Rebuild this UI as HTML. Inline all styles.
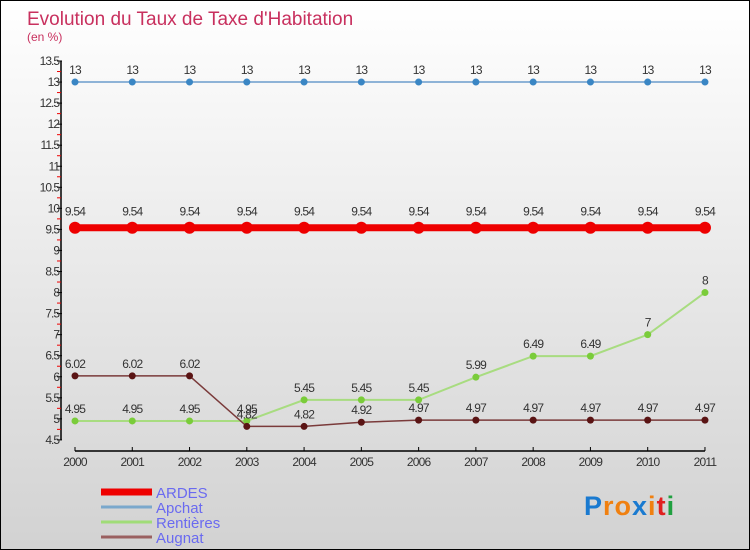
<!DOCTYPE html>
<html><head><meta charset="utf-8"><style>
html,body{margin:0;padding:0}
body{width:750px;height:550px;overflow:hidden;font-family:"Liberation Sans",sans-serif}
#wrap{position:relative;width:748px;height:548px;border:1px solid #000;background:linear-gradient(#ffffff,#d2d2d2)}
</style></head><body>
<div id="wrap">
<svg id="chart" width="748" height="548" style="position:absolute;left:0;top:0"></svg>
</div>
<script>
const years=["2000","2001","2002","2003","2004","2005","2006","2007","2008","2009","2010","2011"];
const ardes=[9.54,9.54,9.54,9.54,9.54,9.54,9.54,9.54,9.54,9.54,9.54,9.54];
const apchat=[13,13,13,13,13,13,13,13,13,13,13,13];
const rentieres=[4.95,4.95,4.95,4.95,5.45,5.45,5.45,5.99,6.49,6.49,7,8];
const augnat=[6.02,6.02,6.02,4.82,4.82,4.92,4.97,4.97,4.97,4.97,4.97,4.97];
const rentLabels=["4.95","4.95","4.95","4.95","5.45","5.45","5.45","5.99","6.49","6.49","7","8"];
const augLabels=["6.02","6.02","6.02","4.82","4.82","4.92","4.97","4.97","4.97","4.97","4.97","4.97"];
const yTicks=[4.5,5,5.5,6,6.5,7,7.5,8,8.5,9,9.5,10,10.5,11,11.5,12,12.5,13,13.5];
const NS="http://www.w3.org/2000/svg";
const svg=document.getElementById('chart');
const X=i=>74+i*57.27;
const Y=v=>60+(13.5-v)*42.1;
function el(t,a,p){const e=document.createElementNS(NS,t);for(const k in a)e.setAttribute(k,a[k]);(p||svg).appendChild(e);return e;}
function txt(x,y,s,a,p){const e=el('text',Object.assign({x:x,y:y},a),p);e.textContent=s;return e;}
const title=txt(26,24,"Evolution du Taux de Taxe d'Habitation",{'font-size':19,fill:'#c8305e'});


const sub=txt(26,40,"(en %)",{'font-size':12,fill:'#c8305e'});


const yAxis=el('g',{});


el('line',{x1:60,y1:Y(13.5),x2:60,y2:Y(4.5),stroke:'#000','stroke-width':1.5},yAxis);
yTicks.forEach((v,i)=>{
  el('line',{x1:56,y1:Y(v),x2:61,y2:Y(v),stroke:'#000'},yAxis);
  if(i<yTicks.length-1) el('line',{x1:56,y1:Y(v+0.25),x2:60,y2:Y(v+0.25),stroke:'#e00'},yAxis);
  const t=txt(58,Y(v)+4,String(v),{'font-size':12,fill:'#333','text-anchor':'end','letter-spacing':'-1'},yAxis);
  
  
});
const xAxis=el('g',{});


el('line',{x1:X(0),y1:450,x2:X(11),y2:450,stroke:'#000','stroke-width':1.5},xAxis);
years.forEach((y,i)=>{
  el('line',{x1:X(i),y1:446,x2:X(i),y2:450,stroke:'#000'},xAxis);
  const t=txt(X(i),465,y,{'font-size':12,fill:'#333','text-anchor':'middle','letter-spacing':'-0.8'},xAxis);
  
  
});
function series(name,vals,labels,color,w,r,dot,lab){
  const g=el('g',{});
  
  
  el('polyline',{points:vals.map((v,i)=>X(i)+','+Y(v)).join(' '),fill:'none',stroke:color,'stroke-width':w},g);
  vals.forEach((v,i)=>{
    const c=el('circle',{cx:X(i),cy:Y(v),r:r,fill:dot},g);
    
    
    const t=txt(X(i),Y(v)+lab,labels[i],{'font-size':12,fill:'#333','text-anchor':'middle','letter-spacing':'-0.8'},g);
    
    
  });
}
series('series-apchat',apchat,apchat.map(String),'#6a9ccc',1.5,3.5,'#3a86c4',-8);
series('series-ardes',ardes,ardes.map(String),'#ee0000',7,6,'#ee0000',-12);
series('series-rentieres',rentieres,rentLabels,'#a8dc80',2,3.5,'#7acc3a',-8);
series('series-augnat',augnat,augLabels,'#7a3a3a',1.5,3.5,'#5a1414',-8);
const leg=[["ARDES","#ee0000",7],["Apchat","#7aa8cc",3],["Rentières","#a0dc78",3],["Augnat","#9a6060",3]];
leg.forEach((l,i)=>{
  const g=el('g',{});
  
  
  const y=491+i*15;
  el('line',{x1:100,y1:y,x2:151,y2:y,stroke:l[1],'stroke-width':l[2]},g);
  txt(155,y+6,l[0],{'font-size':15,fill:'#6a6af0'},g);
});
const logo=el('text',{x:583,y:514,'font-size':27,'font-weight':'bold','letter-spacing':'1'});


[["P","#1a7ad0"],["ro","#f08010"],["x","#1a7ad0"],["i","#f08010"],["t","#e02020"],["i","#20a040"]].forEach(p=>{const s=el('tspan',{fill:p[1]},logo);s.textContent=p[0];});
</script>
</body></html>
